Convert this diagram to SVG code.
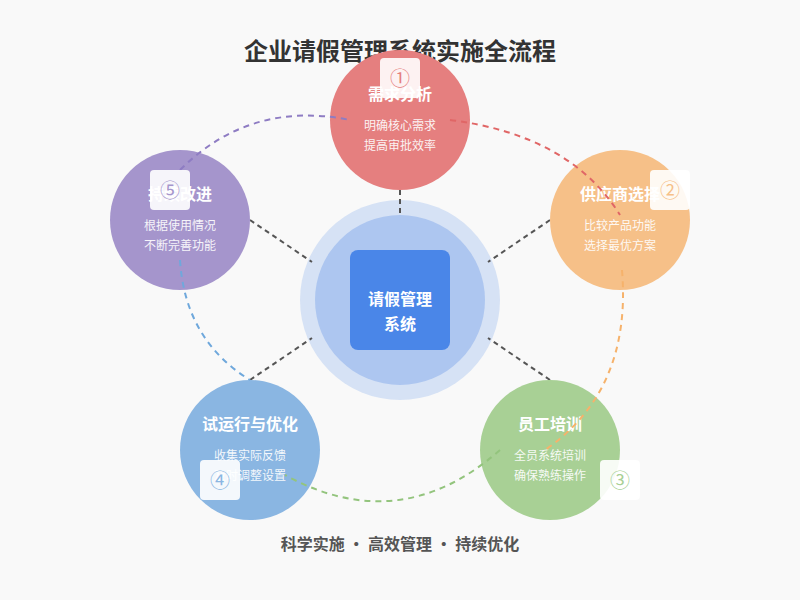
<svg xmlns="http://www.w3.org/2000/svg" width="800" height="600" viewBox="0 0 800 600">
<style>
text{font-family:"Noto Sans CJK SC","Noto Sans",sans-serif;text-anchor:middle}
.t{font-size:16px;font-weight:bold;fill:#fff}
.d{font-size:12px;fill:#fff;opacity:.9}
.b{fill:#fff;opacity:.9}
.bn{font-size:20px}
.c{stroke:#555;stroke-width:2;stroke-dasharray:5 4;fill:none}
.a{stroke-width:2;stroke-dasharray:6 5;fill:none}
</style>
<rect width="800" height="600" fill="#f9f9f9"/>
<text x="400" y="60" style="font-size:24px;font-weight:bold;fill:#333">企业请假管理系统实施全流程</text>
<g id="center">
<circle cx="400" cy="300" r="100" fill="#d6e2f5"/>
<circle cx="400" cy="300" r="85" fill="#adc6f0"/>
<rect x="350" y="250" width="100" height="100" rx="8" fill="#4a86e8"/>
<text x="400" y="305" class="t">请假管理</text>
<text x="400" y="330" class="t">系统</text>
</g>
<g id="connectors">
<line class="c" x1="400" y1="190" x2="400" y2="215"/>
<line class="c" x1="550" y1="220" x2="488" y2="262"/>
<line class="c" x1="550" y1="380" x2="488" y2="338"/>
<line class="c" x1="250" y1="380" x2="312" y2="338"/>
<line class="c" x1="250" y1="220" x2="312" y2="262"/>
</g>
<g id="n1"><circle cx="400" cy="120" r="70" fill="#e57f7f"/><text x="400" y="100" class="t">需求分析</text><text x="400" y="130" class="d">明确核心需求</text><text x="400" y="150" class="d">提高审批效率</text></g>
<g id="n2"><circle cx="620" cy="220" r="70" fill="#f6c088"/><text x="620" y="200" class="t">供应商选择</text><text x="620" y="230" class="d">比较产品功能</text><text x="620" y="250" class="d">选择最优方案</text></g>
<g id="n3"><circle cx="550" cy="450" r="70" fill="#a8d095"/><text x="550" y="430" class="t">员工培训</text><text x="550" y="460" class="d">全员系统培训</text><text x="550" y="480" class="d">确保熟练操作</text></g>
<g id="n4"><circle cx="250" cy="450" r="70" fill="#8ab6e2"/><text x="250" y="430" class="t">试运行与优化</text><text x="250" y="460" class="d">收集实际反馈</text><text x="250" y="480" class="d">及时调整设置</text></g>
<g id="n5"><circle cx="180" cy="220" r="70" fill="#a595cc"/><text x="180" y="200" class="t">持续改进</text><text x="180" y="230" class="d">根据使用情况</text><text x="180" y="250" class="d">不断完善功能</text></g>
<g id="arcs">
<path class="a" stroke="#e06666" d="M450 120 Q570 135 620 215"/>
<path class="a" stroke="#f6b26b" d="M622 270 Q632 390 545 450"/>
<path class="a" stroke="#93c47d" d="M500 450 Q400 538 285 475"/>
<path class="a" stroke="#6fa8dc" d="M180 260 Q185 340 250 380"/>
<path class="a" stroke="#8e7cc3" d="M180 170 Q250 100 350 120"/>
</g>
<g id="badges">
<rect class="b" x="380" y="58" width="40" height="40" rx="4"/><text x="400" y="86" class="bn" fill="#e57f7f">①</text>
<rect class="b" x="650" y="170" width="40" height="40" rx="4"/><text x="670" y="198" class="bn" fill="#f6c088">②</text>
<rect class="b" x="600" y="460" width="40" height="40" rx="4"/><text x="620" y="488" class="bn" fill="#a8d095">③</text>
<rect class="b" x="200" y="460" width="40" height="40" rx="4"/><text x="220" y="488" class="bn" fill="#8ab6e2">④</text>
<rect class="b" x="150" y="170" width="40" height="40" rx="4"/><text x="170" y="198" class="bn" fill="#a595cc">⑤</text>
</g>
<text x="400" y="550" style="font-size:16px;font-weight:bold;fill:#555">科学实施 · 高效管理 · 持续优化</text>
</svg>
